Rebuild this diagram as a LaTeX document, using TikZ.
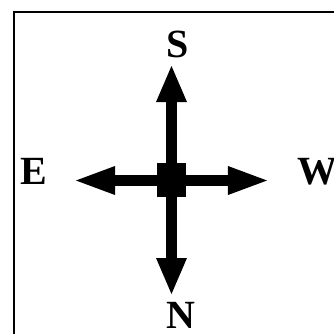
\documentclass[tikz,border=0pt]{standalone}
\usepackage{fontspec}
\setmainfont{Liberation Serif}
\usetikzlibrary{arrows.meta}
\begin{document}
\begin{tikzpicture}[x=1bp,y=-1bp,
  lbl/.style={font=\fontsize{40bp}{46bp}\selectfont\bfseries, inner sep=0pt},
  varrow/.style={line width=11bp, -{Triangle[length=36bp,width=31bp,line width=0pt]}},
  harrow/.style={line width=10.5bp, -{Triangle[length=39bp,width=29bp,line width=0pt]}},
  hubbox/.style={fill=black, draw=none, minimum width=29bp, minimum height=34bp, inner sep=0pt}]
\useasboundingbox (0,0) rectangle (334,334);
\clip (0,0) rectangle (334,334);
\draw[line width=1.8bp] (14,12) rectangle (360,360);
\coordinate (c) at (171.5,180.5);
\coordinate (tipS) at (171.5,66);
\coordinate (tipN) at (171.5,294);
\coordinate (tipE) at (76,180.5);
\coordinate (tipW) at (267,180.5);
\draw[varrow] (c) -- (tipS);
\draw[varrow] (c) -- (tipN);
\draw[harrow] (c) -- (tipE);
\draw[harrow] (c) -- (tipW);
\node[hubbox] (hub) at (171.5,180) {};
\node[lbl] (S) at (178,44.5) {S};
\node[lbl] (E) at (33.5,171.5) {E};
\node[lbl, anchor=west] (W) at (297,171.5) {W};
\node[lbl] (N) at (181,315) {N};
\end{tikzpicture}
\end{document}
